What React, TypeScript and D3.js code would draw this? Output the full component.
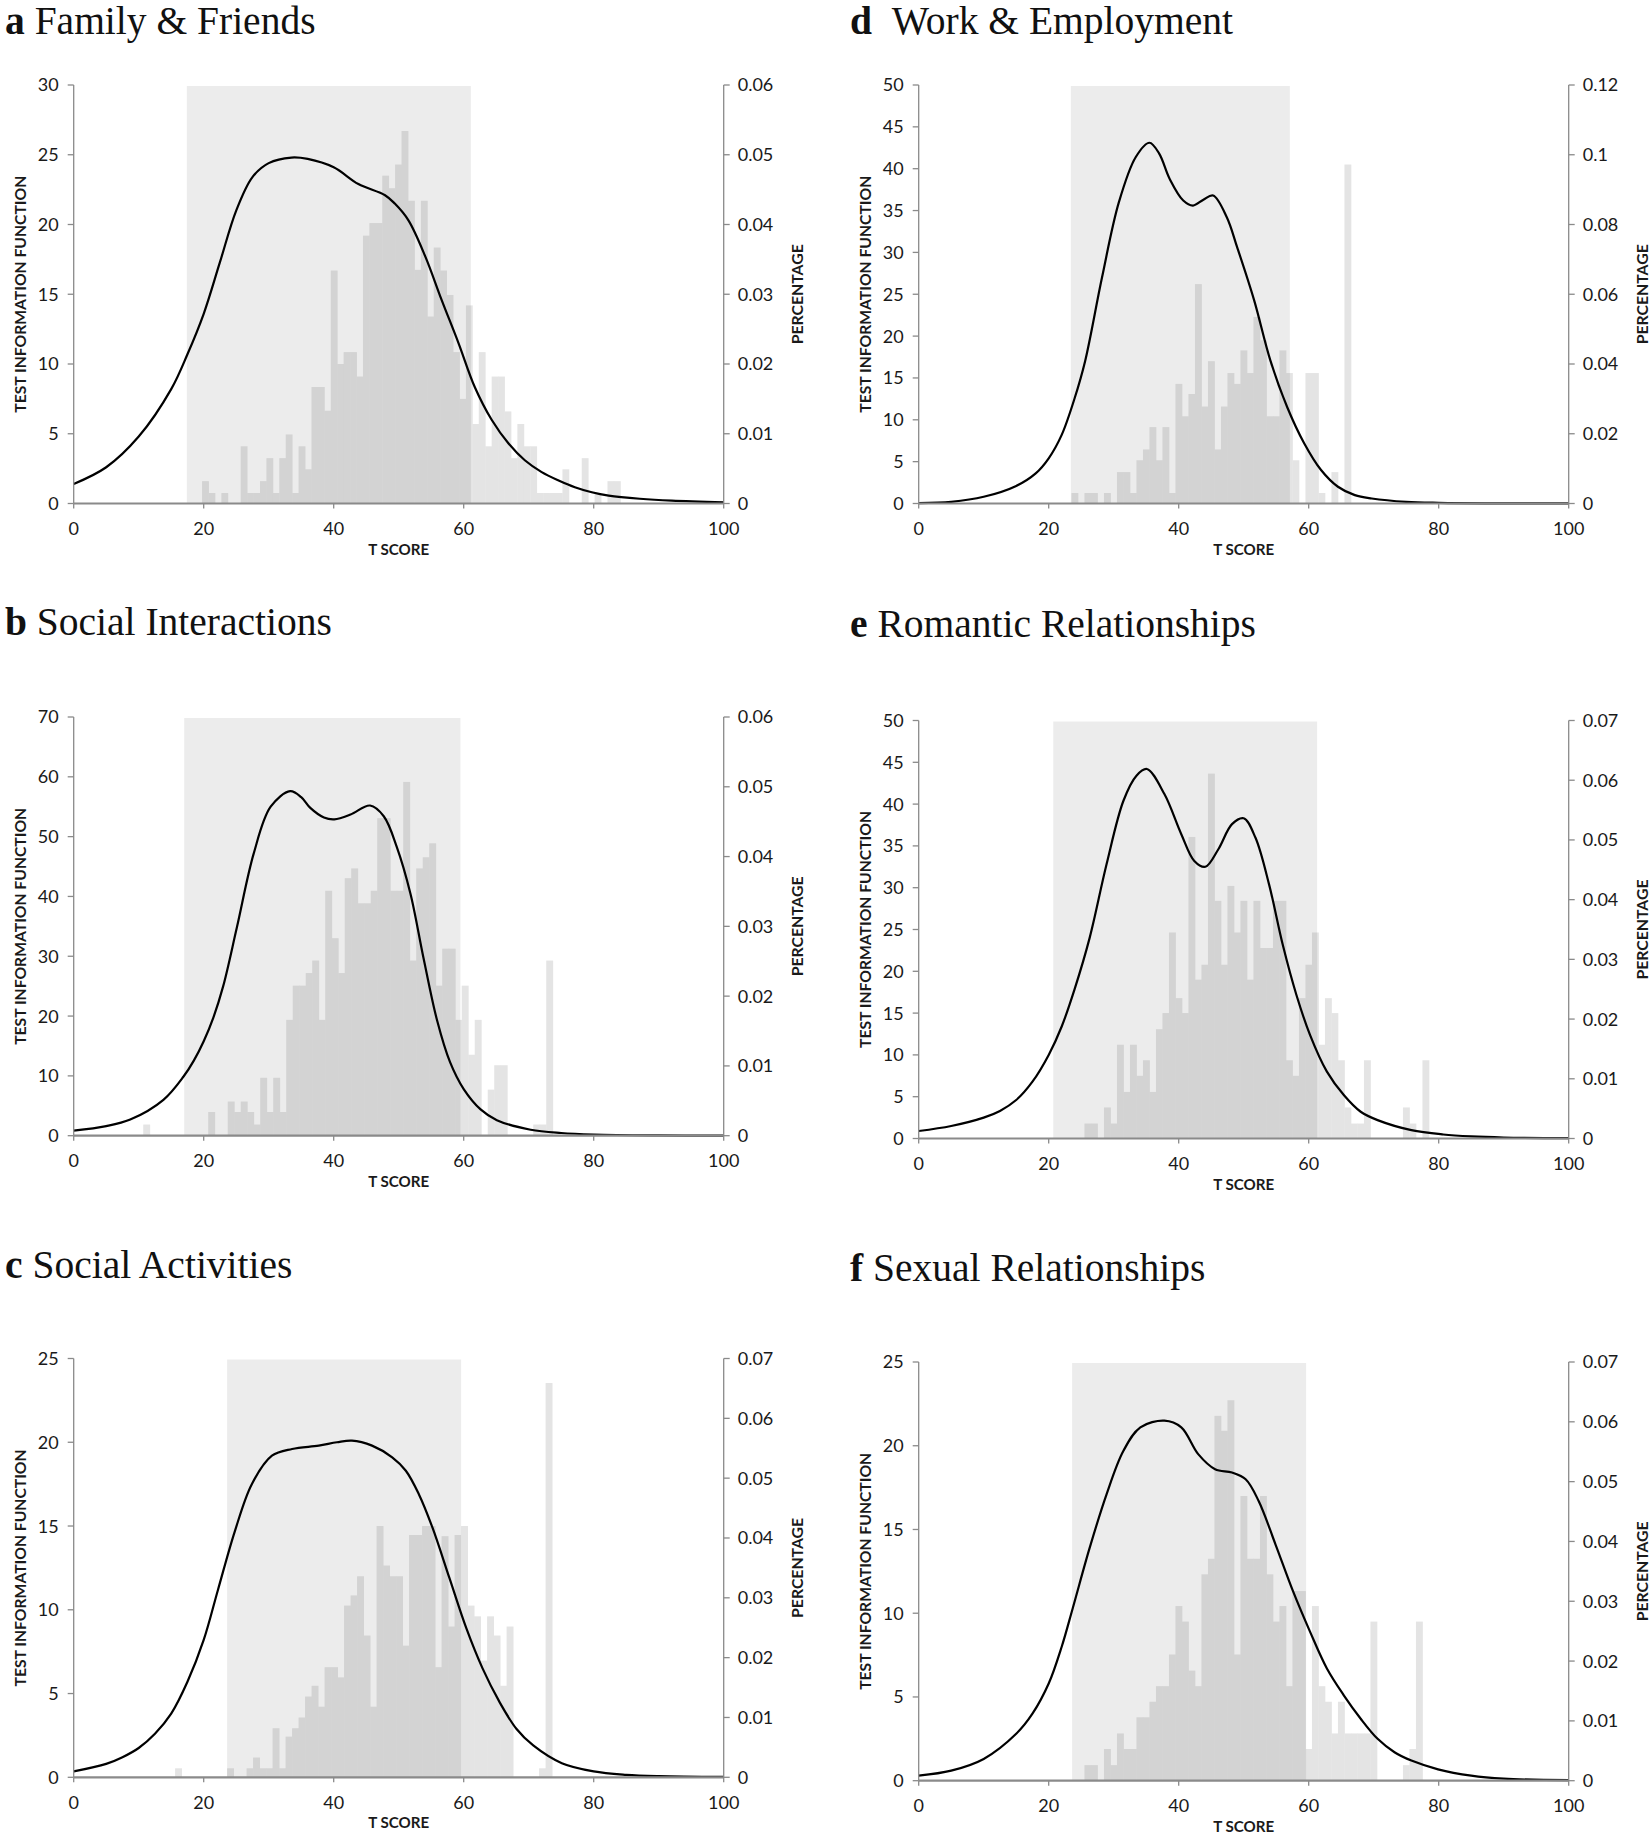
import React from "react";
import * as d3 from "d3";

type Pt = [number, number];

// ---------------- DATA ----------------
const scoreTicks = [0, 20, 40, 60, 80, 100];

// a Family & Friends
const familyFirstScore = 19.75;
const familyScoreStep = 0.99;
const familyPct = [
  0.0032, 0.0015, 0, 0.0015, 0, 0, 0.0082, 0.0015, 0.0015, 0.0032,
  0.0065, 0.0015, 0.0065, 0.0099, 0.0015, 0.0082, 0.0049, 0.0167, 0.0167, 0.0133,
  0.0334, 0.02, 0.0217, 0.0217, 0.0182, 0.0384, 0.0402, 0.0402, 0.047, 0.0452,
  0.0486, 0.0534, 0.0434, 0.0335, 0.0434, 0.0268, 0.0367, 0.0334, 0.0299, 0.0217,
  0.015, 0.0284, 0.0114, 0.0217, 0.0082, 0.0182, 0.0182, 0.0132, 0.0065, 0.0114,
  0.0082, 0.0082, 0.0015, 0.0015, 0.0015, 0.0015, 0.0049, 0, 0, 0.0065,
  0, 0.0015, 0, 0.0032, 0.0032,
];
const familyTif: Pt[] = [
  [0, 1.4], [5, 2.6], [10, 4.8], [15, 8.2], [17.5, 10.7], [20, 13.6], [22.5, 17.3],
  [25, 21.0], [27.5, 23.4], [30, 24.4], [33.5, 24.8], [36, 24.7], [40, 24.1],
  [43.8, 22.9], [47.9, 22.1], [49.4, 21.5], [51.5, 20.3], [54.1, 17.7], [56.6, 14.6],
  [59.2, 11.5], [61.7, 8.35], [64.3, 6.0], [66.9, 4.3], [69.4, 3.1], [72, 2.25],
  [74.6, 1.65], [77.1, 1.17], [79.7, 0.81], [82.3, 0.57], [87.1, 0.34], [92, 0.2], [100, 0.08],
];
const familyBand = [17.4, 61.1];
const familyLeftTicks = [0, 5, 10, 15, 20, 25, 30];
const familyRightTicks = [0, 0.01, 0.02, 0.03, 0.04, 0.05, 0.06];

// b Social Interactions
const interFirstScore = 10.7;
const interScoreStep = 1;
const interPct = [
  0.0016, 0, 0, 0, 0, 0, 0, 0, 0, 0,
  0.0034, 0, 0, 0.0049, 0.0034, 0.0049, 0.0034, 0.0016, 0.0083, 0.0034,
  0.0083, 0.0034, 0.0166, 0.0215, 0.0215, 0.0233, 0.0251, 0.0166, 0.0351, 0.0283,
  0.0233, 0.0369, 0.0383, 0.0333, 0.0333, 0.0351, 0.0455, 0.0455, 0.0351, 0.0351,
  0.0507, 0.0251, 0.0383, 0.0399, 0.0419, 0.0215, 0.0268, 0.0268, 0.0166, 0.0215,
  0.0116, 0.0166, 0, 0.0066, 0.0101, 0.0101, 0, 0, 0, 0,
  0.0016, 0.0016, 0.0251,
];
const interTif: Pt[] = [
  [0, 0.85], [5, 1.6], [8.7, 2.7], [13.8, 6.0], [16.9, 9.9], [18.5, 12.6], [20, 15.8],
  [21.5, 19.8], [23, 25.0], [25.1, 34.8], [27.7, 47.2], [30.3, 55.0], [33.3, 57.6],
  [35, 56.6], [36.4, 54.8], [38.5, 53.2], [40.1, 52.9], [42.6, 53.7], [45.6, 55.2],
  [47.7, 53.4], [49.7, 48.3], [51.8, 40.5], [53.8, 29.8], [55.9, 19.3], [57.9, 12.3],
  [60, 7.8], [62.6, 4.4], [65.1, 2.6], [70.3, 1.0], [75, 0.45], [80, 0.2], [90, 0.05], [100, 0.01],
];
const interBand = [17.0, 59.5];
const interLeftTicks = [0, 10, 20, 30, 40, 50, 60, 70];
const interRightTicks = [0, 0.01, 0.02, 0.03, 0.04, 0.05, 0.06];

// c Social Activities
const activFirstScore = 15.6;
const activScoreStep = 1;
const activPct = [
  0.0015, 0, 0, 0, 0, 0, 0, 0, 0.0015, 0,
  0, 0.0015, 0.0033, 0.0015, 0.0015, 0.0082, 0.0015, 0.0068, 0.0082, 0.01,
  0.0135, 0.0153, 0.0118, 0.0184, 0.0184, 0.0167, 0.0287, 0.0304, 0.0336, 0.0237,
  0.0118, 0.042, 0.0354, 0.0336, 0.0336, 0.022, 0.0405, 0.0405, 0.042, 0.042,
  0.0184, 0.0403, 0.0252, 0.0405, 0.042, 0.0287, 0.0269, 0.0195, 0.0269, 0.0237,
  0.0153, 0.0252, 0, 0, 0, 0, 0.0015, 0.0659,
];
const activTif: Pt[] = [
  [0, 0.35], [5, 0.8], [7.5, 1.2], [10, 1.75], [12.5, 2.6], [15, 3.8], [17.5, 5.7],
  [20, 8.2], [22.2, 11.2], [24.8, 14.7], [27.4, 17.5], [30.5, 19.2], [33.6, 19.6],
  [37.7, 19.8], [40.5, 20.0], [42.8, 20.1], [45.9, 19.8], [49, 19.1], [51.1, 18.3],
  [53.1, 16.9], [55.2, 14.9], [57.8, 11.9], [60.4, 8.9], [62.9, 6.5], [65.5, 4.5],
  [68.1, 2.9], [70.7, 1.9], [75.1, 0.84], [80, 0.35], [85, 0.15], [90, 0.07], [100, 0.02],
];
const activBand = [23.6, 59.6];
const activLeftTicks = [0, 5, 10, 15, 20, 25];
const activRightTicks = [0, 0.01, 0.02, 0.03, 0.04, 0.05, 0.06, 0.07];

// d Work & Employment
const workFirstScore = 23.5;
const workScoreStep = 1;
const workPct = [
  0.003, 0, 0.003, 0.003, 0, 0.003, 0, 0.009, 0.009, 0.003,
  0.0124, 0.0155, 0.0219, 0.0124, 0.0219, 0.003, 0.0343, 0.025, 0.0314, 0.0629,
  0.0278, 0.0408, 0.0155, 0.0278, 0.0374, 0.0343, 0.0439, 0.0374, 0.0535, 0.0468,
  0.025, 0.025, 0.0439, 0.0374, 0.0124, 0, 0.0374, 0.0374, 0.003, 0,
  0.009, 0, 0.0972,
];
const workTif: Pt[] = [
  [0, 0.05], [5, 0.2], [10, 0.8], [15, 2.1], [18, 3.6], [20, 5.4], [22, 8.2],
  [24, 12.6], [25.6, 17.0], [28.2, 27.0], [30.8, 36.0], [33.4, 41.4], [35.5, 43.1],
  [37, 41.8], [38.6, 38.8], [40.7, 36.2], [42.2, 35.6], [43.8, 36.3], [45.3, 36.8],
  [47.4, 34.2], [49, 30.6], [51.6, 24.3], [54.1, 17.1], [56.7, 11.5], [59.3, 7.2],
  [61.9, 4.0], [64.5, 2.0], [67.1, 1.0], [69.7, 0.6], [75, 0.2], [80, 0.08], [90, 0.02], [100, 0.01],
];
const workBand = [23.4, 57.1];
const workLeftTicks = [0, 5, 10, 15, 20, 25, 30, 35, 40, 45, 50];
const workRightTicks = [0, 0.02, 0.04, 0.06, 0.08, 0.1, 0.12];

// e Romantic Relationships
const romFirstScore = 25.5;
const romScoreStep = 1;
const romPct = [
  0.0025, 0.0025, 0, 0.0052, 0.0025, 0.0157, 0.0078, 0.0157, 0.0105, 0.0131,
  0.0078, 0.0183, 0.021, 0.0345, 0.0235, 0.021, 0.0505, 0.0266, 0.0291, 0.0611,
  0.0398, 0.0291, 0.0423, 0.0345, 0.0398, 0.0266, 0.0398, 0.0319, 0.0319, 0.0398,
  0.0398, 0.0131, 0.0105, 0.0235, 0.0291, 0.0345, 0.0157, 0.0235, 0.021, 0.0131,
  0.0052, 0.0025, 0.0025, 0.0131, 0, 0, 0, 0, 0, 0.0052,
  0.0025, 0, 0.0131,
];
const romTif: Pt[] = [
  [0, 0.9], [5, 1.5], [10, 2.5], [12.5, 3.3], [15, 4.6], [17.5, 6.8], [20, 10.0],
  [22, 13.4], [24, 17.9], [26.3, 24.0], [28.9, 32.8], [31.5, 40.4], [33.5, 43.4],
  [35.1, 44.2], [37.8, 41.2], [40.4, 36.4], [42.4, 33.2], [44.1, 32.5], [46.1, 34.6],
  [48.2, 37.6], [50, 38.3], [51.8, 36.0], [53.9, 30.4], [56, 23.2], [58.1, 17.2],
  [60.2, 12.4], [62.8, 8.0], [65.4, 5.2], [68, 3.2], [70.6, 2.2], [75.8, 1.0],
  [80.7, 0.48], [85, 0.25], [90, 0.12], [100, 0.05],
];
const romBand = [20.7, 61.3];
const romLeftTicks = [0, 5, 10, 15, 20, 25, 30, 35, 40, 45, 50];
const romRightTicks = [0, 0.01, 0.02, 0.03, 0.04, 0.05, 0.06, 0.07];

// f Sexual Relationships
const sexFirstScore = 25.5;
const sexScoreStep = 1;
const sexPct = [
  0.0026, 0.0026, 0, 0.0053, 0.0026, 0.0079, 0.0053, 0.0053, 0.0106, 0.0106,
  0.0132, 0.0158, 0.0158, 0.0211, 0.0292, 0.0266, 0.0184, 0.0158, 0.0345, 0.0371,
  0.061, 0.0585, 0.0636, 0.0211, 0.0476, 0.0371, 0.0371, 0.0476, 0.0345, 0.0266,
  0.0292, 0.0158, 0.0317, 0.0317, 0.0053, 0.0292, 0.0158, 0.0132, 0.0079, 0.0132,
  0.0079, 0.0079, 0.0079, 0.0079, 0.0266, 0, 0, 0, 0, 0.0026,
  0.0053, 0.0266,
];
const sexTif: Pt[] = [
  [0, 0.3], [5, 0.6], [10, 1.3], [15, 2.8], [17.5, 4.0], [20, 5.8], [22, 8.0],
  [23.7, 10.3], [26.3, 13.9], [28.9, 17.1], [31.5, 19.7], [34.1, 21.1], [37.8, 21.5],
  [40.4, 21.1], [43, 19.5], [45.6, 18.6], [48.2, 18.4], [50.3, 18.0], [52.3, 16.7],
  [54.9, 14.1], [57.6, 11.3], [60.2, 8.9], [62.8, 6.7], [65.4, 5.1], [68, 3.7],
  [70.6, 2.5], [73.2, 1.7], [75.8, 1.2], [79.9, 0.68], [85, 0.3], [90, 0.12], [100, 0.03],
];
const sexBand = [23.6, 59.6];
const sexLeftTicks = [0, 5, 10, 15, 20, 25];
const sexRightTicks = [0, 0.01, 0.02, 0.03, 0.04, 0.05, 0.06, 0.07];

// ---------------- PANEL DEFINITIONS ----------------
interface Spec {
  letter: string;
  name: string;
  firstScore: number;
  step: number;
  pct: number[];
  tif: Pt[];
  band: number[];
  leftTicks: number[];
  rightTicks: number[];
}

const specs: Spec[] = [
  { letter: "a", name: "Family & Friends", firstScore: familyFirstScore, step: familyScoreStep, pct: familyPct, tif: familyTif, band: familyBand, leftTicks: familyLeftTicks, rightTicks: familyRightTicks },
  { letter: "b", name: "Social Interactions", firstScore: interFirstScore, step: interScoreStep, pct: interPct, tif: interTif, band: interBand, leftTicks: interLeftTicks, rightTicks: interRightTicks },
  { letter: "c", name: "Social Activities", firstScore: activFirstScore, step: activScoreStep, pct: activPct, tif: activTif, band: activBand, leftTicks: activLeftTicks, rightTicks: activRightTicks },
  { letter: "d", name: "Work & Employment", firstScore: workFirstScore, step: workScoreStep, pct: workPct, tif: workTif, band: workBand, leftTicks: workLeftTicks, rightTicks: workRightTicks },
  { letter: "e", name: "Romantic Relationships", firstScore: romFirstScore, step: romScoreStep, pct: romPct, tif: romTif, band: romBand, leftTicks: romLeftTicks, rightTicks: romRightTicks },
  { letter: "f", name: "Sexual Relationships", firstScore: sexFirstScore, step: sexScoreStep, pct: sexPct, tif: sexTif, band: sexBand, leftTicks: sexLeftTicks, rightTicks: sexRightTicks },
];

// layout (pixels)
const COL_X0 = [73.7, 918.7];
const PLOT_W = 650;
const TITLE_X = [5, 850];
const layouts = [
  { col: 0, top: 85, bottom: 503.5, titleY: 34, gap: " " },
  { col: 0, top: 717, bottom: 1135.7, titleY: 635, gap: " " },
  { col: 0, top: 1358.5, bottom: 1777.3, titleY: 1278, gap: " " },
  { col: 1, top: 85, bottom: 503.5, titleY: 34, gap: "\u00a0\u00a0" },
  { col: 1, top: 720.5, bottom: 1138.5, titleY: 637, gap: " " },
  { col: 1, top: 1362, bottom: 1780.7, titleY: 1281, gap: " " },
];

const AXIS_GRAY = "#8a8a8a";
const TEXT = "#1a1a1a";
const TICK_FONT = "Lato, 'Open Sans', sans-serif";

const fmtRight = (v: number) => (v === 0 ? "0" : String(+v.toFixed(3)));

function Panel({ spec, lay }: { spec: Spec; lay: (typeof layouts)[number] }) {
  const x0 = COL_X0[lay.col];
  const x = d3.scaleLinear().domain([0, 100]).range([x0, x0 + PLOT_W]);
  const leftMax = spec.leftTicks[spec.leftTicks.length - 1];
  const rightMax = spec.rightTicks[spec.rightTicks.length - 1];
  const yL = d3.scaleLinear().domain([0, leftMax]).range([lay.bottom, lay.top]);
  const yR = d3.scaleLinear().domain([0, rightMax]).range([lay.bottom, lay.top]);
  const binW = x(spec.step) - x(0);
  const line = d3
    .line<Pt>()
    .x((d) => x(d[0]))
    .y((d) => yL(d[1]))
    .curve(d3.curveCatmullRom.alpha(0.5));
  const midY = (lay.top + lay.bottom) / 2;
  const xL = x(0);
  const xR = x(100);

  return (
    <g>
      <text x={TITLE_X[lay.col]} y={lay.titleY} fontFamily="'Liberation Serif', 'Times New Roman', serif" fontSize={39.5} fill="#111">
        <tspan fontWeight="bold">{spec.letter}</tspan>
        {lay.gap}
        {spec.name}
      </text>

      {/* histogram bars */}
      {spec.pct.map((p, i) =>
        p > 0 ? (
          <rect
            key={i}
            x={x(spec.firstScore + i * spec.step)}
            y={yR(p)}
            width={binW + 0.4}
            height={yR(0) - yR(p)}
            fill="#e4e4e4"
          />
        ) : null
      )}

      {/* shaded band */}
      <rect
        x={x(spec.band[0])}
        y={yL(leftMax) + 1}
        width={x(spec.band[1]) - x(spec.band[0])}
        height={yL(0) - yL(leftMax) - 1}
        fill="#000"
        fillOpacity={0.075}
      />

      {/* TIF curve */}
      <path d={line(spec.tif) || ""} fill="none" stroke="#000" strokeWidth={2.2} strokeLinejoin="round" />

      {/* left axis */}
      <line x1={xL} x2={xL} y1={yL(0)} y2={yL(leftMax)} stroke={AXIS_GRAY} strokeWidth={1.3} />
      {spec.leftTicks.map((t) => (
        <g key={"l" + t}>
          <line x1={xL - 6} x2={xL} y1={yL(t)} y2={yL(t)} stroke={AXIS_GRAY} strokeWidth={1.3} />
          <text x={xL - 15} y={yL(t)} dy="0.36em" textAnchor="end" fontFamily={TICK_FONT} fontSize={18} fill={TEXT}>
            {t}
          </text>
        </g>
      ))}

      {/* right axis */}
      <line x1={xR} x2={xR} y1={yR(0)} y2={yR(rightMax)} stroke={AXIS_GRAY} strokeWidth={1.3} />
      {spec.rightTicks.map((t) => (
        <g key={"r" + t}>
          <line x1={xR} x2={xR + 6} y1={yR(t)} y2={yR(t)} stroke={AXIS_GRAY} strokeWidth={1.3} />
          <text x={xR + 14} y={yR(t)} dy="0.36em" textAnchor="start" fontFamily={TICK_FONT} fontSize={18} fill={TEXT}>
            {fmtRight(t)}
          </text>
        </g>
      ))}

      {/* bottom axis */}
      <line x1={xL} x2={xR} y1={lay.bottom} y2={lay.bottom} stroke={AXIS_GRAY} strokeWidth={2.2} />
      {scoreTicks.map((t) => (
        <g key={"x" + t}>
          <line x1={x(t)} x2={x(t)} y1={lay.bottom} y2={lay.bottom + 5} stroke={AXIS_GRAY} strokeWidth={1.3} />
          <text x={x(t)} y={lay.bottom + 31.5} textAnchor="middle" fontFamily={TICK_FONT} fontSize={18} fill={TEXT}>
            {t}
          </text>
        </g>
      ))}

      {/* axis titles */}
      <text
        x={x(50)}
        y={lay.bottom + 51}
        textAnchor="middle"
        fontFamily={TICK_FONT}
        fontWeight="bold"
        fontSize={16}
        fill={TEXT}
        textLength={61}
        lengthAdjust="spacingAndGlyphs"
      >
        T SCORE
      </text>
      <text
        transform={`translate(${xL - 48},${midY}) rotate(-90)`}
        textAnchor="middle"
        fontFamily={TICK_FONT}
        fontWeight="bold"
        fontSize={16}
        fill={TEXT}
        textLength={237}
        lengthAdjust="spacingAndGlyphs"
      >
        TEST INFORMATION FUNCTION
      </text>
      <text
        transform={`translate(${xR + 79},${midY}) rotate(-90)`}
        textAnchor="middle"
        fontFamily={TICK_FONT}
        fontWeight="bold"
        fontSize={16}
        fill={TEXT}
        textLength={100}
        lengthAdjust="spacingAndGlyphs"
      >
        PERCENTAGE
      </text>
    </g>
  );
}

export default function App() {
  return (
    <svg
      width={1650}
      height={1837}
      viewBox="0 0 1650 1837"
      style={{ position: "absolute", left: 0, top: 0, background: "#fff" }}
    >
      <rect x={0} y={0} width={1650} height={1837} fill="#fff" />
      {specs.map((s, i) => (
        <Panel key={s.letter} spec={s} lay={layouts[i]} />
      ))}
    </svg>
  );
}
